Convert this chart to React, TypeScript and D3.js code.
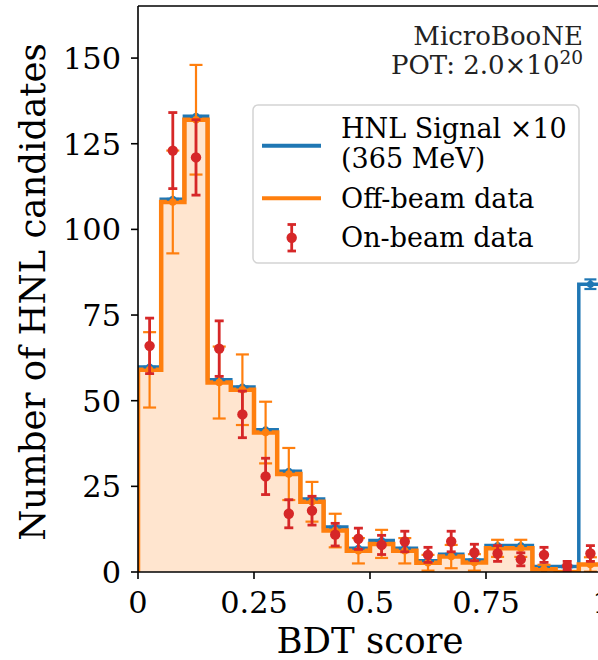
import React from 'react';
import * as d3 from 'd3';

// ---- data ----
const binEdges = [0, 0.05, 0.1, 0.15, 0.2, 0.25, 0.3, 0.35, 0.4, 0.45, 0.5, 0.55, 0.6, 0.65, 0.7, 0.75, 0.8, 0.85, 0.9, 0.95, 1.0];
const offBeam = [59, 108, 132, 55.3, 53.2, 40.7, 28.6, 20.5, 12.1, 6.2, 8.2, 6.2, 2.7, 4.5, 2.8, 6.9, 6.9, 0.8, 0, 2.2];
const offBeamErr = [11, 15, 16, 10.5, 10.3, 9, 7.6, 5.8, 4.9, 3.7, 4.1, 3.7, 2.3, 3.4, 2.4, 2.5, 2.5, 1.3, 0, 2.1];
const signalX10 = [0.8, 0.8, 1.0, 0.8, 0.8, 0.8, 0.8, 0.8, 1.0, 0.7, 1.0, 0.7, 0.6, 0.7, 0.7, 0.8, 0.8, 0.8, 1.6, 81.8];
const signalErr = [0.1, 0.1, 0.1, 0.1, 0.1, 0.1, 0.1, 0.1, 0.1, 0.1, 0.1, 0.1, 0.1, 0.1, 0.1, 0.1, 0.1, 0.1, 0.2, 1.4];
const onBeam = [66, 123, 121, 65.2, 46, 27.9, 17, 17.9, 10.9, 9.7, 7.9, 8.9, 5, 8.9, 5.7, 5.4, 3.7, 5, 1.8, 5.4];
const onBeamErr = [8.1, 11.1, 11, 8.1, 6.8, 5.3, 4.1, 4.2, 3.3, 3.1, 2.8, 3, 2.2, 3, 2.4, 2.3, 1.9, 2.2, 1.3, 2.3];
const xTicks = [0, 0.25, 0.5, 0.75, 1];
const xTickLabels = ['0', '0.25', '0.5', '0.75', '1'];
const yTicks = [0, 25, 50, 75, 100, 125, 150];
const yMax = 165.2;

const BLUE = '#1f77b4';
const ORANGE = '#ff7f0e';
const RED = '#d62728';
const FONT = '"DejaVu Serif", serif';

const W = 598, H = 660;
const PL = 138, PR = 602, PT = 6, PB = 572;

export default function App() {
  const x = d3.scaleLinear().domain([0, 1]).range([PL, PR]);
  const y = d3.scaleLinear().domain([0, yMax]).range([PB, PT]);

  const stepPts = (vals: number[]) => {
    const pts: [number, number][] = [[binEdges[0], 0]];
    vals.forEach((v, i) => {
      pts.push([binEdges[i], v]);
      pts.push([binEdges[i + 1], v]);
    });
    pts.push([binEdges[binEdges.length - 1], 0]);
    return pts;
  };
  const line = d3.line<[number, number]>().x(d => x(d[0])).y(d => y(d[1]));
  const area = d3.area<[number, number]>().x(d => x(d[0])).y0(y(0)).y1(d => y(d[1]));

  const total = offBeam.map((v, i) => v + signalX10[i]);
  const centers = offBeam.map((_, i) => (binEdges[i] + binEdges[i + 1]) / 2);

  const errBars = (vals: number[], errs: number[], color: string, cap: number, r: number, lw: number, key: string) => (
    <g key={key}>
      {vals.map((v, i) => {
        const cx = x(centers[i]);
        const y1 = y(v + errs[i]);
        const y0 = y(v - errs[i]);
        return (
          <g key={i}>
            <line x1={cx} x2={cx} y1={y0} y2={y1} stroke={color} strokeWidth={lw} />
            <line x1={cx - cap / 2} x2={cx + cap / 2} y1={y0} y2={y0} stroke={color} strokeWidth={lw} />
            <line x1={cx - cap / 2} x2={cx + cap / 2} y1={y1} y2={y1} stroke={color} strokeWidth={lw} />
            <circle cx={cx} cy={y(v)} r={r} fill={color} />
          </g>
        );
      })}
    </g>
  );

  return (
    <svg width={W} height={H} style={{ position: 'fixed', left: 0, top: 0, background: '#fff' }} fontFamily={FONT}>
      <defs>
        <clipPath id="plotclip">
          <rect x={PL} y={PT} width={PR - PL} height={PB - PT} />
        </clipPath>
      </defs>
      <rect x={0} y={0} width={W} height={H} fill="#fff" />
      <g clipPath="url(#plotclip)">
        <path d={area(stepPts(offBeam)) || ''} fill={ORANGE} fillOpacity={0.2} />
        <path d={line(stepPts(total)) || ''} fill="none" stroke={BLUE} strokeWidth={3.5} strokeLinejoin="miter" />
        <path d={line(stepPts(offBeam)) || ''} fill="none" stroke={ORANGE} strokeWidth={4.5} strokeLinejoin="miter" />
        {errBars(total, signalErr, BLUE, 12, 3.5, 2.2, 'b')}
        {errBars(offBeam, offBeamErr, ORANGE, 13, 3.8, 2.2, 'o')}
        {errBars(onBeam, onBeamErr, RED, 9, 5.2, 2.8, 'r')}
      </g>

      {/* spines */}
      <line x1={PL} x2={PL} y1={PT} y2={PB} stroke="#000" strokeWidth={1.6} />
      <line x1={PL} x2={PR} y1={PB} y2={PB} stroke="#000" strokeWidth={1.6} />
      <line x1={PL} x2={PR} y1={PT} y2={PT} stroke="#000" strokeWidth={1.6} />
      <line x1={PR} x2={PR} y1={PT} y2={PB} stroke="#000" strokeWidth={1.6} />

      {/* y ticks */}
      {yTicks.map(t => (
        <g key={'y' + t}>
          <line x1={PL - 7} x2={PL} y1={y(t)} y2={y(t)} stroke="#000" strokeWidth={1.6} />
          <text x={PL - 17} y={y(t) + 11} textAnchor="end" fontSize={30.4} fill="#000">{t}</text>
        </g>
      ))}
      {/* x ticks */}
      {xTicks.map((t, i) => (
        <g key={'x' + t}>
          <line x1={x(t)} x2={x(t)} y1={PB} y2={PB + 7} stroke="#000" strokeWidth={1.6} />
          <text x={x(t)} y={612.5} textAnchor="middle" fontSize={30.4} fill="#000">{xTickLabels[i]}</text>
        </g>
      ))}

      <text x={(PL + PR) / 2} y={653} textAnchor="middle" fontSize={35.5} fill="#000">BDT score</text>
      <text transform={`translate(45, ${(PT + PB) / 2 + 3}) rotate(-90)`} textAnchor="middle" fontSize={35.5} fill="#000">Number of HNL candidates</text>

      {/* annotation */}
      <text x={583} y={45} textAnchor="end" fontSize={26} fill="#222">MicroBooNE</text>
      <text x={583} y={74} textAnchor="end" fontSize={26} fill="#222">
        POT: 2.0×10<tspan dy={-10} fontSize={18.5}>20</tspan>
      </text>

      {/* legend */}
      <g>
        <rect x={253} y={105} width={326} height={158} rx={5} ry={5} fill="#fff" fillOpacity={0.8} stroke="#d4d4d4" strokeWidth={1.5} />
        <line x1={262} x2={321} y1={145.7} y2={145.7} stroke={BLUE} strokeWidth={4} />
        <text x={341} y={137.7} fontSize={27} fill="#000">HNL Signal ×10</text>
        <text x={341} y={168} fontSize={27} fill="#000">(365 MeV)</text>
        <line x1={262} x2={321} y1={198.3} y2={198.3} stroke={ORANGE} strokeWidth={4} />
        <text x={341} y={208} fontSize={27} fill="#000">Off-beam data</text>
        <line x1={291.7} x2={291.7} y1={224.5} y2={251} stroke={RED} strokeWidth={2.8} />
        <line x1={287.5} x2={296} y1={224.5} y2={224.5} stroke={RED} strokeWidth={2.8} />
        <line x1={287.5} x2={296} y1={251} y2={251} stroke={RED} strokeWidth={2.8} />
        <circle cx={291.7} cy={237.7} r={5.2} fill={RED} />
        <text x={341} y={246.7} fontSize={27} fill="#000">On-beam data</text>
      </g>
    </svg>
  );
}
